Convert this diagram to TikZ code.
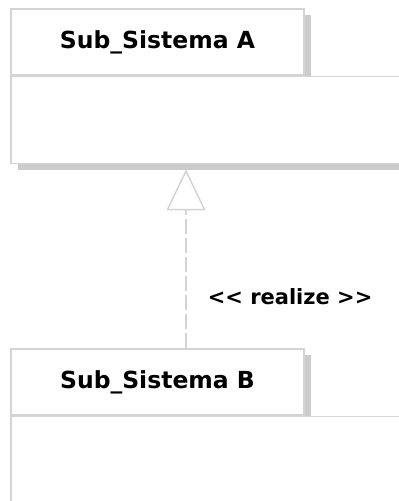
\documentclass[tikz,border=0pt]{standalone}
\usepackage{fontspec}
\setsansfont{DejaVu Sans}
\usetikzlibrary{arrows.meta, shadows, positioning}

%% colores de los paquetes
\definecolor{pkgline}{RGB}{212,212,212}
\definecolor{pkgshadow}{RGB}{204,204,204}

\begin{document}
\begin{tikzpicture}[x=1pt, y=-1pt,
  pkgshade/.style={drop shadow={shadow xshift=7pt, shadow yshift=-6pt, fill=pkgshadow, opacity=1}},
  pkgtab/.style={draw=pkgline, line width=1.5pt, fill=white, pkgshade,
    minimum width=293pt, minimum height=66pt, inner sep=0pt,
    font=\sffamily\bfseries\fontsize{23.5}{28}\selectfont},
  pkgbody/.style={draw=pkgline, line width=1.5pt, fill=white, pkgshade,
    minimum width=450pt, anchor=north west, inner sep=0pt},
  realize/.style={draw=pkgline, line width=1.5pt, dash pattern=on 15pt off 4pt,
    -{Triangle[open, length=41pt, width=39pt, fill=white]}},
  reallbl/.style={font=\sffamily\bfseries\fontsize{21}{25}\selectfont, inner sep=0pt},
]
\useasboundingbox (0,0) rectangle (399,501);
\clip (0,0) rectangle (399,501);

%% Paquete A %%%%%%%%%%%%%%%%%%%%%%%%%
\node[pkgtab] (tabA) at (157.5,42) {Sub\_Sistema A};
\node[pkgbody, minimum height=87pt] (bodyA) at (tabA.south west) {};

%% Paquete B %%%%%%%%%%%%%%%%%%%%%%%%%
\node[pkgtab] (tabB) at (157.5,382) {Sub\_Sistema B};
\node[pkgbody, minimum height=120pt] (bodyB) at (tabB.south west) {};

%% realizacion B -> A
\path (tabB.north) ++(28.5,0) coordinate (realizeStart);
\path (realizeStart |- bodyA.south) ++(0,5) coordinate (realizeEnd);
\draw[realize] (realizeStart) -- node[pos=0.29, anchor=west, xshift=21pt, reallbl] (realizeLbl) {<{}< realize >{}>} (realizeEnd);
\end{tikzpicture}
\end{document}
